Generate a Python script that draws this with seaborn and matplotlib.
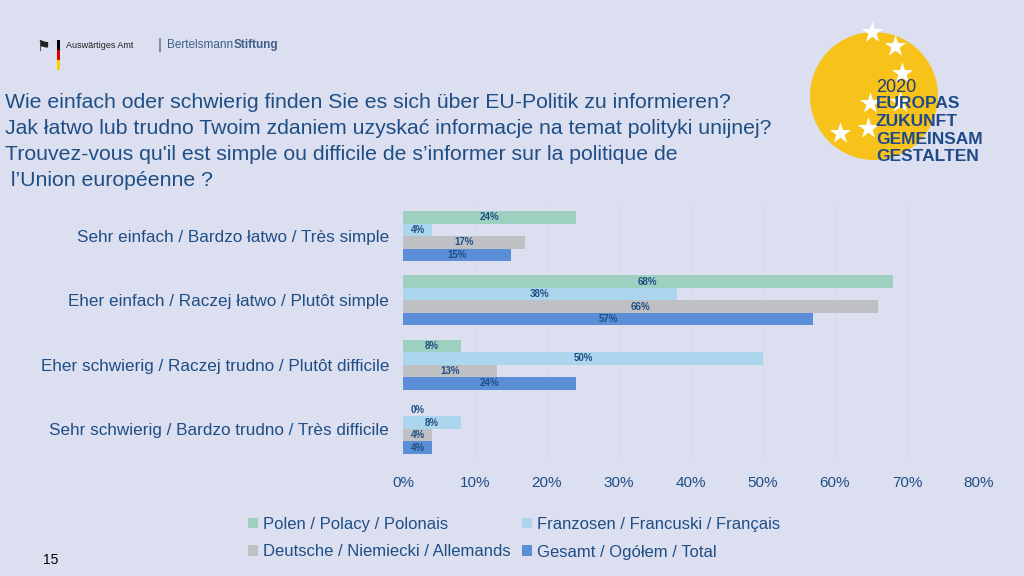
import pandas as pd
import numpy as np
import matplotlib
matplotlib.use("Agg")
import matplotlib.pyplot as plt
import seaborn as sns
from matplotlib.patches import Circle, Rectangle, Patch

categories = [
    "Sehr einfach / Bardzo łatwo / Très simple",
    "Eher einfach / Raczej łatwo / Plutôt simple",
    "Eher schwierig / Raczej trudno / Plutôt difficile",
    "Sehr schwierig / Bardzo trudno / Très difficile",
]
groups = [
    "Polen / Polacy / Polonais",
    "Franzosen / Francuski / Français",
    "Deutsche / Niemiecki / Allemands",
    "Gesamt / Ogółem / Total",
]
polen = [24, 68, 8, 0]
franzosen = [4, 38, 50, 8]
deutsche = [17, 66, 13, 4]
gesamt = [15, 57, 24, 4]
x_ticks = [0, 10, 20, 30, 40, 50, 60, 70, 80]

title_lines = [
    "Wie einfach oder schwierig finden Sie es sich über EU-Politik zu informieren?",
    "Jak łatwo lub trudno Twoim zdaniem uzyskać informacje na temat polityki unijnej?",
    "Trouvez-vous qu'il est simple ou difficile de s\u2019informer sur la politique de",
    " l\u2019Union européenne ?",
]

BG = "#dcdff0"
TXT = "#1f4e85"
colors = ["#9dd0bf", "#acd6ee", "#bfc0c4", "#5a8fd8"]

sns.set_theme(style="white")
plt.rcParams["font.family"] = ["Liberation Sans", "DejaVu Sans"]

rows = []
for g, vals in zip(groups, [polen, franzosen, deutsche, gesamt]):
    for c, v in zip(categories, vals):
        rows.append({"cat": c, "group": g, "val": v})
df = pd.DataFrame(rows)

fig = plt.figure(figsize=(10.24, 5.76), dpi=100, facecolor=BG)
ax = fig.add_axes([403 / 1024, 1 - 461 / 576, 576 / 1024, 257 / 576])
ax.set_facecolor(BG)

sns.barplot(data=df, y="cat", x="val", hue="group", palette=colors,
            orient="h", width=0.78, ax=ax, legend=False, saturation=1,
            linewidth=0)

ax.set_xlim(0, 80)
ax.set_ylim(3.5, -0.5)
ax.set_xticks(x_ticks)
ax.set_xticklabels([f"{t}%" for t in x_ticks], color=TXT, fontsize=11)
ax.tick_params(axis="x", length=0, pad=11)
ax.tick_params(axis="y", length=0, pad=10)
ax.set_yticks(range(len(categories)))
ax.set_yticklabels(categories, color=TXT, fontsize=12.3)
ax.set_xlabel("")
ax.set_ylabel("")
for s in ax.spines.values():
    s.set_visible(False)
for t in x_ticks[1:]:
    ax.axvline(t, color="#d6d9ec", lw=0.6, zorder=0)

# value labels
for container, vals in zip(ax.containers, [polen, franzosen, deutsche, gesamt]):
    for bar, v in zip(container, vals):
        y = bar.get_y() + bar.get_height() / 2
        ax.text(max(v / 2, 2.1), y, f"{v}%", ha="center", va="center",
                fontsize=7, color=TXT, fontweight="bold")

# legend
order = [0, 2, 1, 3]
handles = [Patch(facecolor=colors[i], edgecolor="none") for i in order]
labels = [groups[i] for i in order]
fig.legend(handles, labels, ncol=2, frameon=False, fontsize=12,
           loc="upper left", bbox_to_anchor=(233 / 1024, 1 - 502 / 576),
           handlelength=0.6, handleheight=0.6, handletextpad=0.3,
           columnspacing=0.7, labelspacing=0.75, labelcolor=TXT)

# title
for i, line in enumerate(title_lines):
    fig.text(5 / 1024, 1 - (102 + 26 * i) / 576, line, fontsize=15.3,
             color=TXT, va="center", ha="left")

# page number
fig.text(43 / 1024, 1 - 560 / 576, "15", fontsize=10, color="black", va="center")

# header logos
for k, c in enumerate(["black", "#dd0000", "#ffce00"]):
    fig.add_artist(Rectangle((57 / 1024, 1 - (50 + 10 * k) / 576), 3 / 1024, 10 / 576,
                             transform=fig.transFigure, color=c, lw=0))
fig.text(43 / 1024, 1 - 47 / 576, "\u2691", fontsize=11, color="#222222",
         ha="center", va="center")
fig.text(66 / 1024, 1 - 45 / 576, "Auswärtiges Amt", fontsize=6.5,
         color="#222222", va="center")
fig.text(158 / 1024, 1 - 45 / 576, "|", fontsize=11, color="#3d5f8a", va="center")
t1 = fig.text(167 / 1024, 1 - 45 / 576, "Bertelsmann", fontsize=8.5,
              color="#3d5f8a", va="center")
plt.annotate("Stiftung", xy=(1, 0), xycoords=t1, va="bottom", ha="left",
             fontsize=8.5, color="#3d5f8a", fontweight="bold")

# Europe 2020 logo
lax = fig.add_axes([0, 0, 1, 1], facecolor="none")
lax.set_xlim(0, 1024)
lax.set_ylim(576, 0)
lax.axis("off")
lax.add_patch(Circle((874, 96), 64, color="#f7c21a", lw=0))
star_x = [872, 895, 902, 900, 868, 840, 870]
star_y = [32, 46, 73, 102, 128, 133, 103]
lax.scatter(star_x, star_y, marker="*", s=260, color="white", lw=0)
fig.text(876 / 1024, 1 - 87 / 576, "2020", fontsize=13, color="#1f3f7a",
         va="center", fontweight="light")
for i, w in enumerate(["EUROPAS", "ZUKUNFT", "GEMEINSAM", "GESTALTEN"]):
    fig.text(876 / 1024, 1 - (104 + 17.5 * i) / 576, w, fontsize=12.5,
             color="#1f4a8a", va="center", fontweight="bold")

fig.savefig("out.png", dpi=100, facecolor=BG)
